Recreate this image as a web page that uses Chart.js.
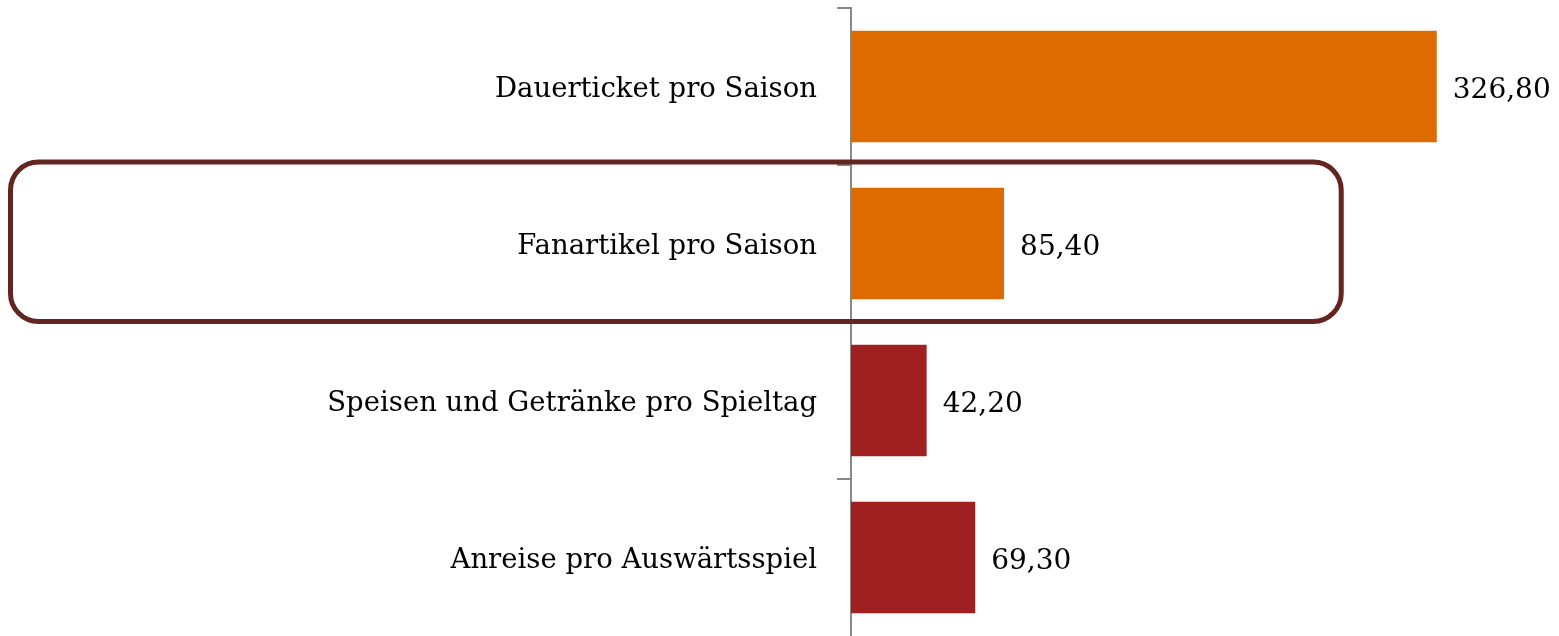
<!DOCTYPE html>
<html>
<head>
<meta charset="utf-8">
<script src="https://cdn.jsdelivr.net/npm/chart.js@4"></script>
<style>
  body { margin: 0; background: #fff; }
</style>
</head>
<body>
<canvas id="costChart" width="1559" height="636"></canvas>
<script>
// Kategorien und Werte (Euro)
var categories = [
  'Dauerticket pro Saison',
  'Fanartikel pro Saison',
  'Speisen und Getränke pro Spieltag',
  'Anreise pro Auswärtsspiel'
];
var values = [326.8, 85.4, 42.2, 69.3];
var barColors = ['#DD6B00', '#DD6B00', '#A02022', '#A02022'];
var highlightIndex = 1;

var fontFamily = '"DejaVu Serif", Georgia, serif';

// value labels right of each bar
var valueLabels = {
  id: 'valueLabels',
  afterDatasetsDraw: function (chart) {
    var ctx = chart.ctx;
    var meta = chart.getDatasetMeta(0);
    ctx.save();
    ctx.fillStyle = '#000';
    ctx.font = '28px ' + fontFamily;
    ctx.textBaseline = 'middle';
    ctx.textAlign = 'left';
    meta.data.forEach(function (bar, i) {
      var txt = values[i].toFixed(2).replace('.', ',');
      ctx.fillText(txt, bar.x + 16, bar.y + 4);
    });
    ctx.restore();
  }
};

// rounded box around the highlighted row
var highlightBox = {
  id: 'highlightBox',
  afterDraw: function (chart) {
    var y = chart.scales.y;
    var x = chart.scales.x;
    var half = (y.getPixelForValue(1) - y.getPixelForValue(0)) / 2;
    var cy = y.getPixelForValue(highlightIndex);
    var left = 10.5, right = x.getPixelForValue(273.5);
    var top = cy - half - 3, bottom = cy + half - 0.5;
    var r = 28;
    var ctx = chart.ctx;
    ctx.save();
    ctx.strokeStyle = '#642420';
    ctx.lineWidth = 5;
    ctx.beginPath();
    ctx.roundRect(left, top, right - left, bottom - top, r);
    ctx.stroke();
    ctx.restore();
  }
};

var ctx = document.getElementById('costChart').getContext('2d');
var chart = new Chart(ctx, {
  type: 'bar',
  data: {
    labels: categories,
    datasets: [{
      data: values,
      backgroundColor: barColors,
      borderWidth: 0,
      barPercentage: 0.71,
      categoryPercentage: 1
    }]
  },
  options: {
    indexAxis: 'y',
    responsive: false,
    animation: false,
    layout: { padding: { top: 8, right: 0, bottom: 0, left: 0 } },
    plugins: {
      legend: { display: false },
      tooltip: { enabled: false }
    },
    scales: {
      x: {
        display: false,
        min: 0,
        max: 395
      },
      y: {
        afterFit: function (scale) {
          scale.width = 851;
          scale.paddingTop = 0;
          scale.paddingBottom = 0;
        },
        grid: {
          offset: true,
          drawOnChartArea: false,
          drawTicks: true,
          tickLength: 14,
          // no tick below the last category (it sits on the canvas edge)
          color: function (c) { return c.tick ? '#888' : 'rgba(0,0,0,0)'; },
          lineWidth: 2
        },
        border: { display: true, color: '#888', width: 2 },
        ticks: {
          color: '#000',
          padding: 20,
          labelOffset: 3,
          font: { family: fontFamily, size: 27.5 }
        }
      }
    }
  },
  plugins: [valueLabels, highlightBox]
});
</script>
</body>
</html>
